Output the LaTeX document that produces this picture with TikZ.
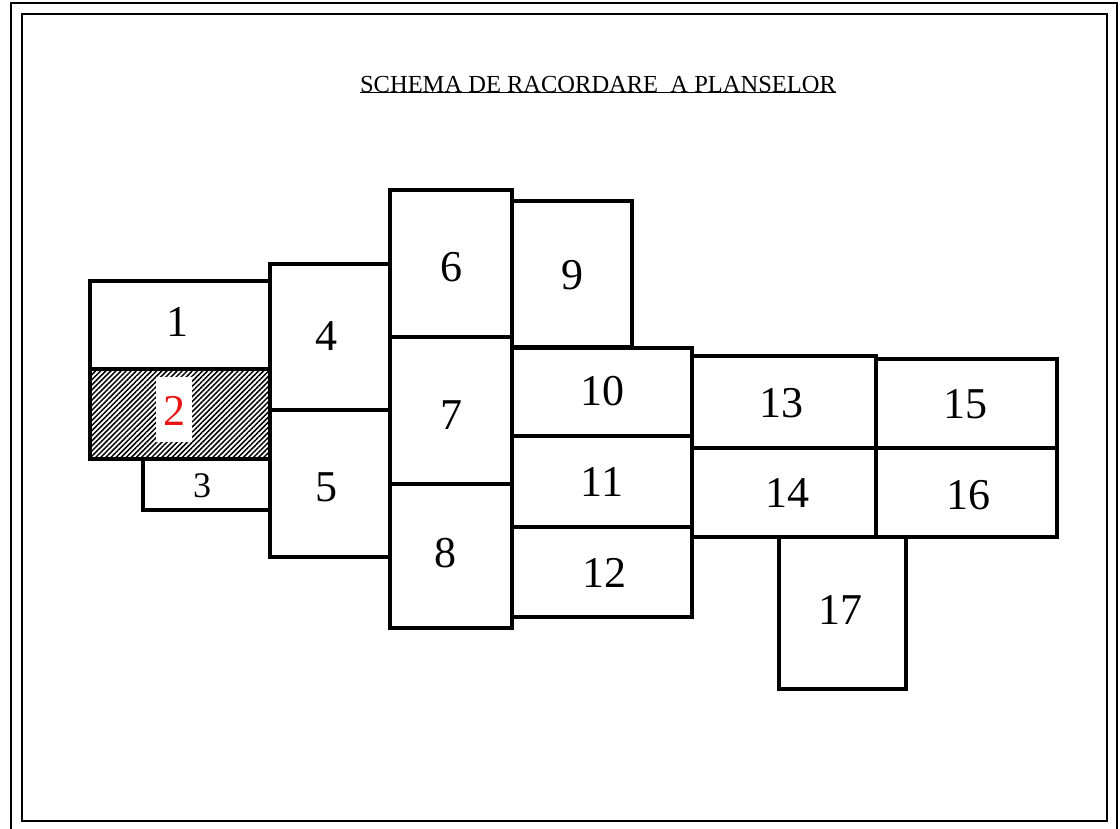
\documentclass[tikz,border=0pt]{standalone}
\usepackage{fontspec}
\setmainfont{Liberation Serif}
\usetikzlibrary{patterns.meta}
\definecolor{sheetRed}{RGB}{235,20,20}
\tikzset{
  frame/.style={draw, line width=2pt},
  sheet/.style={draw, line width=3.3pt, line join=miter},
  hatch/.style={pattern={Lines[angle=45, distance=3.6pt, line width=1.5pt]}},
  num/.style={inner sep=0pt, font=\fontsize{44}{44}\selectfont},
  smallnum/.style={inner sep=0pt, font=\fontsize{36}{36}\selectfont},
  title/.style={inner sep=0pt, anchor=base, font=\fontsize{24.5}{24.5}\selectfont}
}

\begin{document}
\begin{tikzpicture}[x=1pt, y=-1pt]
  \useasboundingbox (0,0) rectangle (1120,828);
  \draw[frame] (11,3) rectangle (1117,840);
  \draw[frame] (22,14) rectangle (1107,821);

  \node[title] (head) at (598,92) {SCHEMA DE RACORDARE \ A PLANSELOR};
  \draw[line width=1.5pt] (head.south west) -- (head.south east);

  \fill[hatch] (90,369) rectangle (270,459);
  \fill[white] (156,377) rectangle (192,442);

  \draw[sheet] (90,281) rectangle (270,369);
  \draw[sheet] (90,369) rectangle (270,459);
  \draw[sheet] (143,459) rectangle (270,510);
  \draw[sheet] (270,264) rectangle (390,410);
  \draw[sheet] (270,410) rectangle (390,557);
  \draw[sheet] (390,190) rectangle (512,337);
  \draw[sheet] (390,337) rectangle (512,484);
  \draw[sheet] (390,484) rectangle (512,628);
  \draw[sheet] (512,201) rectangle (632,347);
  \draw[sheet] (512,348) rectangle (692,436);
  \draw[sheet] (512,436) rectangle (692,527);
  \draw[sheet] (512,527) rectangle (692,617);
  \draw[sheet] (692,356) rectangle (876,448);
  \draw[sheet] (692,448) rectangle (876,537);
  \draw[sheet] (876,359) rectangle (1057,448);
  \draw[sheet] (876,448) rectangle (1057,537);
  \draw[sheet] (779,537) rectangle (906,689);

  \node[num] (s1) at (177,322) {1};
  \node[num, text=sheetRed] (s2) at (174,411) {2};
  \node[smallnum] (s3) at (202,486) {3};
  \node[num] (s4) at (326,336) {4};
  \node[num] (s5) at (326,487) {5};
  \node[num] (s6) at (451,267) {6};
  \node[num] (s7) at (451,415) {7};
  \node[num] (s8) at (445,553) {8};
  \node[num] (s9) at (572,275) {9};
  \node[num] (s10) at (602,391) {10};
  \node[num] (s11) at (602,482) {11};
  \node[num] (s12) at (604,573) {12};
  \node[num] (s13) at (781,403) {13};
  \node[num] (s14) at (787,493) {14};
  \node[num] (s15) at (965,404) {15};
  \node[num] (s16) at (968,495) {16};
  \node[num] (s17) at (840,610) {17};
\end{tikzpicture}
\end{document}
